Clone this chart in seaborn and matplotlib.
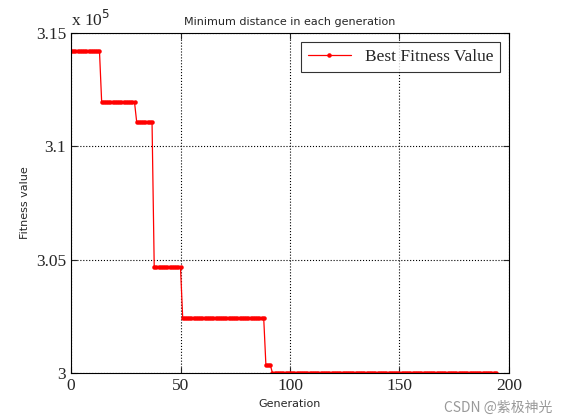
import numpy as np
import matplotlib
matplotlib.use("Agg")
import matplotlib.pyplot as plt
import seaborn as sns

# step levels of best fitness (x1e5) and the generation where each level starts
level_start = [0, 14, 30, 38, 51, 89, 92]
level_value = [3.142, 3.1195, 3.1107, 3.0466, 3.0243, 3.0035, 3.0000]
last_gen = 194

gens = np.arange(0, last_gen + 1)
counts = np.diff(level_start + [last_gen + 1])
fitness = np.repeat(level_value, counts)

sns.set_style("white")
fig = plt.figure(figsize=(5.61, 4.20), dpi=100)
ax = fig.add_axes([0.1266, 0.112, 0.7806, 0.809])

sns.lineplot(x=gens, y=fitness, ax=ax, color="red", linewidth=0.9,
             marker=".", markersize=6.5, markeredgewidth=0, label="Best Fitness Value")

ax.set_xlim(0, 200)
ax.set_ylim(3.0, 3.15)
ax.set_xticks([0, 50, 100, 150, 200])
ax.set_yticks([3.0, 3.05, 3.1, 3.15])
ax.set_yticklabels(["3", "3.05", "3.1", "3.15"])
ax.tick_params(labelsize=12.5, direction="in", length=4, left=True, bottom=True, top=True, right=True)
for lbl in ax.get_xticklabels() + ax.get_yticklabels():
    lbl.set_fontfamily("Liberation Serif")
ax.grid(True, linestyle=":", color="black", linewidth=0.8)
for s in ax.spines.values():
    s.set_color("black")
    s.set_linewidth(0.8)

ax.set_title("Minimum distance in each generation", fontsize=8)
ax.set_xlabel("Generation", fontsize=8)
ax.set_ylabel("Fitness value", fontsize=8)
ax.text(0.0, 1.01, r"x 10$^5$", transform=ax.transAxes, fontsize=12.5,
        family="Liberation Serif", va="bottom")

leg = ax.legend(loc="upper right", prop={"family": "Liberation Serif", "size": 12.5},
                frameon=True, fancybox=False, edgecolor="black", handlelength=2.5)
leg.get_frame().set_linewidth(0.8)

fig.text(0.985, 0.02, "CSDN @紫极神光", ha="right", fontsize=10, color="#999999",
         family=["Noto Sans CJK SC", "DejaVu Sans"])

fig.savefig("out.png", dpi=100)
